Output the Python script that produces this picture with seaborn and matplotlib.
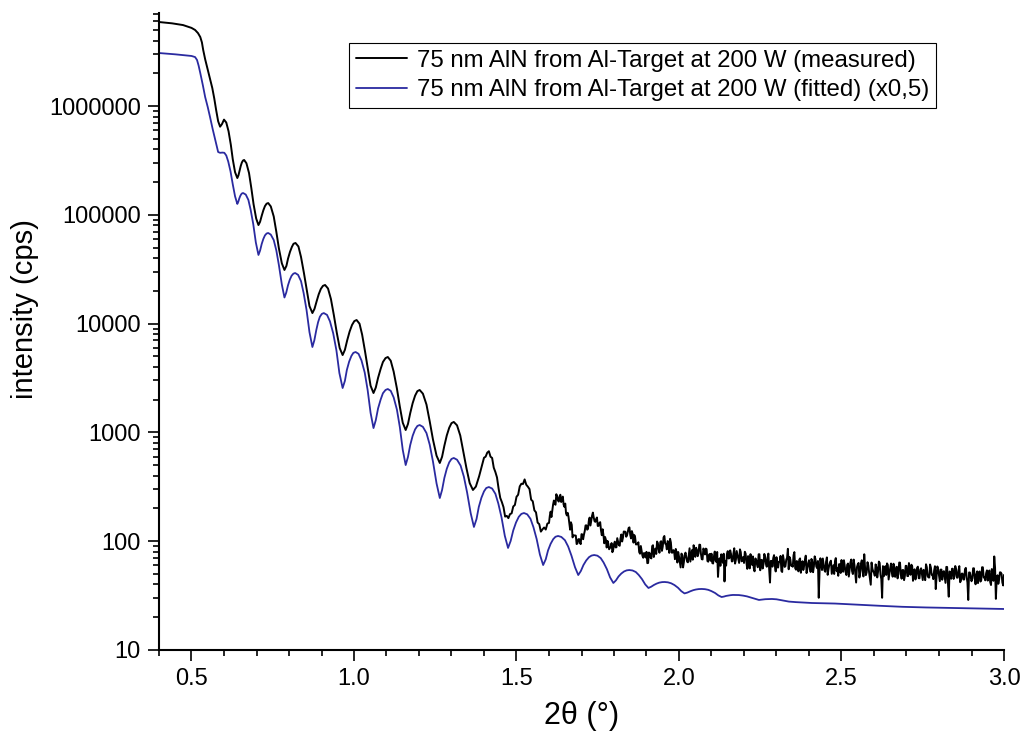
import numpy as np
import pandas as pd
import matplotlib
matplotlib.use("Agg")
import matplotlib.pyplot as plt
import seaborn as sns
from matplotlib.ticker import FixedLocator, LogLocator, FuncFormatter, MultipleLocator, NullFormatter

# ---------------- data (intensities as log10(cps)) ----------------
measured_label = "75 nm AlN from Al-Target at 200 W (measured)"
fitted_label = "75 nm AlN from Al-Target at 200 W (fitted) (x0,5)"

meas_x_smooth = [0.400, 0.440, 0.474, 0.500, 0.511, 0.520, 0.527, 0.532, 0.536, 0.542, 0.548, 0.556, 0.564, 0.570, 0.576, 0.582, 0.588, 0.594, 0.600,
                 0.607, 0.614, 0.621, 0.627, 0.634, 0.641, 0.6445, 0.648, 0.6515, 0.655, 0.6585, 0.662,
                 0.669, 0.677, 0.684, 0.691, 0.699, 0.706, 0.711, 0.716, 0.721, 0.726, 0.731, 0.736,
                 0.744, 0.753, 0.761, 0.769, 0.778, 0.786, 0.792, 0.797, 0.803, 0.809, 0.814, 0.820,
                 0.829, 0.837, 0.846, 0.855, 0.863, 0.872, 0.8785, 0.885, 0.8915, 0.898, 0.9045, 0.911,
                 0.920, 0.929, 0.938, 0.947, 0.956, 0.965, 0.972, 0.979, 0.9865, 0.994, 1.001, 1.008,
                 1.017, 1.025, 1.034, 1.043, 1.051, 1.060, 1.067, 1.074, 1.082, 1.089, 1.097, 1.104,
                 1.113, 1.122, 1.132, 1.141, 1.150, 1.159, 1.166, 1.173, 1.1805, 1.188, 1.195, 1.202,
                 1.212, 1.223, 1.233, 1.243, 1.254, 1.264, 1.271, 1.278, 1.2855, 1.293, 1.300, 1.307,
                 1.317, 1.327, 1.336, 1.346, 1.356, 1.366, 1.375, 1.385, 1.392]
meas_log_smooth = [6.772, 6.760, 6.744, 6.718, 6.699, 6.670, 6.634, 6.585, 6.515, 6.430, 6.358, 6.265, 6.165, 6.070, 5.960, 5.860, 5.810, 5.835, 5.875,
                   5.848, 5.768, 5.644, 5.510, 5.392, 5.338, 5.363, 5.408, 5.449, 5.481, 5.499, 5.504,
                   5.474, 5.384, 5.247, 5.097, 4.966, 4.906, 4.936, 4.991, 5.041, 5.080, 5.102, 5.108,
                   5.077, 4.985, 4.844, 4.690, 4.554, 4.493, 4.530, 4.597, 4.659, 4.706, 4.734, 4.741,
                   4.709, 4.612, 4.464, 4.303, 4.161, 4.097, 4.136, 4.205, 4.270, 4.319, 4.347, 4.355,
                   4.323, 4.226, 4.078, 3.917, 3.775, 3.711, 3.759, 3.846, 3.927, 3.988, 4.023, 4.033,
                   3.999, 3.899, 3.744, 3.577, 3.429, 3.362, 3.412, 3.501, 3.584, 3.647, 3.683, 3.693,
                   3.659, 3.559, 3.404, 3.237, 3.089, 3.022, 3.077, 3.177, 3.269, 3.338, 3.379, 3.390,
                   3.356, 3.256, 3.101, 2.934, 2.786, 2.719, 2.776, 2.877, 2.972, 3.043, 3.085, 3.096,
                   3.065, 2.971, 2.827, 2.671, 2.534, 2.471, 2.502, 2.597, 2.675]

# measured points from 2theta = 1.400 to 3.000, one every 0.005 degree
dense_start, dense_step = 1.400, 0.005
meas_log_dense = [
    2.767, 2.777, 2.814, 2.827, 2.777, 2.765, 2.676, 2.636, 2.586, 2.482,
    2.398, 2.359, 2.313, 2.226, 2.233, 2.212, 2.249, 2.256, 2.319, 2.333,
    2.408, 2.427, 2.504, 2.528, 2.526, 2.568, 2.519, 2.501, 2.479, 2.382,
    2.367, 2.284, 2.265, 2.171, 2.157, 2.088, 2.109, 2.126, 2.107, 2.162,
    2.168, 2.272, 2.280, 2.374, 2.335, 2.412, 2.364, 2.427, 2.391, 2.336,
    2.346, 2.237, 2.226, 2.106, 2.150, 2.053, 2.053, 1.974, 2.017, 1.989,
    2.065, 2.018, 2.093, 2.146, 2.114, 2.217, 2.187, 2.263, 2.185, 2.204,
    2.140, 2.167, 2.099, 2.110, 1.981, 2.014, 2.003, 1.926, 1.949, 1.899,
    1.973, 1.943, 2.028, 1.964, 2.026, 1.997, 2.089, 2.087, 2.053, 2.122,
    2.057, 2.093, 1.987, 2.035, 1.972, 1.990, 1.885, 1.910, 1.848, 1.868,
    1.902, 1.800, 1.888, 1.842, 1.963, 1.899, 1.883, 1.983, 1.894, 2.000,
    1.951, 2.048, 1.976, 2.001, 1.893, 1.989, 1.895, 1.906, 1.929, 1.804,
    1.859, 1.759, 1.874, 1.808, 1.895, 1.812, 1.871, 1.813, 1.918, 1.963,
    1.856, 1.920, 1.887, 1.967, 1.835, 1.933, 1.878, 1.927, 1.812, 1.883,
    1.885, 1.795, 1.905, 1.809, 1.672, 1.843, 1.880, 1.801, 1.630, 1.776,
    1.909, 1.844, 1.883, 1.816, 1.935, 1.829, 1.874, 1.800, 1.900, 1.824,
    1.800, 1.886, 1.746, 1.847, 1.881, 1.782, 1.752, 1.842, 1.787, 1.880,
    1.733, 1.828, 1.789, 1.857, 1.765, 1.886, 1.620, 1.819, 1.845, 1.777,
    1.853, 1.758, 1.809, 1.727, 1.872, 1.764, 1.830, 1.930, 1.855, 1.774,
    1.765, 1.900, 1.738, 1.803, 1.830, 1.710, 1.816, 1.774, 1.867, 1.746,
    1.825, 1.717, 1.810, 1.768, 1.833, 1.752, 1.480, 1.843, 1.735, 1.787,
    1.719, 1.851, 1.743, 1.809, 1.700, 1.779, 1.818, 1.724, 1.682, 1.788,
    1.827, 1.719, 1.771, 1.689, 1.795, 1.741, 1.832, 1.698, 1.777, 1.620,
    1.787, 1.666, 1.798, 1.731, 1.880, 1.688, 1.807, 1.712, 1.600, 1.749,
    1.708, 1.787, 1.667, 1.813, 1.692, 1.480, 1.678, 1.770, 1.796, 1.648,
    1.755, 1.714, 1.793, 1.672, 1.765, 1.697, 1.803, 1.655, 1.735, 1.681,
    1.773, 1.679, 1.731, 1.784, 1.636, 1.742, 1.687, 1.766, 1.659, 1.751,
    1.643, 1.722, 1.788, 1.680, 1.666, 1.758, 1.691, 1.730, 1.560, 1.768,
    1.687, 1.739, 1.646, 1.725, 1.617, 1.763, 1.490, 1.708, 1.747, 1.653,
    1.772, 1.665, 1.731, 1.623, 1.702, 1.648, 1.741, 1.674, 1.460, 1.712,
    1.632, 1.751, 1.657, 1.696, 1.615, 1.722, 1.641, 1.760, 1.667, 1.706,
    1.638, 1.731, 1.597, 1.703, 1.860, 1.470, 1.687, 1.647, 1.713, 1.620,
    1.690]

# interleaved measured points from 2theta = 1.6025 to 2.9975, one every 0.005 degree
inter_start, inter_step = 1.6025, 0.005
meas_log_inter = [
    2.233, 2.222, 2.335, 2.342, 2.432, 2.376, 2.412, 2.360, 2.410, 2.316,
    2.255, 2.261, 2.166, 2.174, 2.035, 2.053, 2.051, 1.979, 2.020, 1.973,
    2.062, 2.060, 2.145, 2.106, 2.187, 2.144, 2.234, 2.220, 2.178, 2.218,
    2.141, 2.175, 2.055, 2.058, 2.039, 1.942, 1.978, 1.938, 1.983, 1.920,
    1.996, 1.944, 1.996, 1.958, 2.062, 2.031, 2.088, 2.041, 2.087, 2.127,
    2.025, 2.066, 2.057, 1.970, 1.972, 1.900, 1.956, 1.866, 1.892, 1.850,
    1.798, 1.896, 1.848, 1.955, 1.855, 1.932, 1.997, 1.921, 1.993, 1.911,
    2.035, 1.977, 1.925, 1.993, 2.022, 1.895, 1.918, 1.835, 1.896, 1.901,
    1.809, 1.886, 1.759, 1.869, 1.854, 1.806, 1.935, 1.865, 1.830, 1.921,
    1.940, 1.862, 1.968, 1.884, 1.832, 1.917, 1.932, 1.817, 1.877, 1.820,
    1.799, 1.861, 1.821, 1.901, 1.795, 1.774, 1.846, 1.885, 1.820, 1.883,
    1.841, 1.916, 1.814, 1.887, 1.794, 1.910, 1.837, 1.925, 1.815, 1.855,
    1.903, 1.803, 1.863, 1.750, 1.824, 1.860, 1.723, 1.828, 1.760, 1.880,
    1.828, 1.749, 1.883, 1.792, 1.846, 1.739, 1.819, 1.766, 1.872, 1.722,
    1.760, 1.812, 1.865, 1.717, 1.824, 1.769, 1.848, 1.742, 1.834, 1.780,
    1.872, 1.752, 1.818, 1.723, 1.842, 1.776, 1.735, 1.827, 1.707, 1.799,
    1.758, 1.837, 1.715, 1.861, 1.767, 1.818, 1.724, 1.803, 1.841, 1.733,
    1.812, 1.691, 1.783, 1.821, 1.740, 1.699, 1.845, 1.750, 1.789, 1.708,
    1.747, 1.825, 1.717, 1.783, 1.675, 1.806, 1.725, 1.831, 1.696, 1.761,
    1.800, 1.706, 1.825, 1.676, 1.755, 1.714, 1.780, 1.658, 1.804, 1.723,
    1.682, 1.761, 1.721, 1.800, 1.652, 1.771, 1.744, 1.690, 1.782, 1.701,
    1.795, 1.674, 1.766, 1.712, 1.658, 1.804, 1.696, 1.735, 1.642, 1.774,
    1.680, 1.799, 1.691, 1.770, 1.729, 1.648, 1.754, 1.660, 1.739, 1.698,
    1.737, 1.642, 1.761, 1.667, 1.786, 1.692, 1.651, 1.770, 1.675, 1.741,
    1.633, 1.739, 1.711, 1.671, 1.764, 1.616, 1.722, 1.655, 1.747, 1.680,
    1.745, 1.665, 1.771, 1.637, 1.702, 1.648, 1.755, 1.620, 1.713, 1.672,
    1.658, 1.751, 1.604, 1.723, 1.709, 1.629, 1.761, 1.667, 1.640, 1.732,
    1.691, 1.625, 1.744, 1.636, 1.756, 1.649, 1.608, 1.714, 1.700, 1.593]

fit_x = [0.400, 0.450, 0.500, 0.511, 0.517, 0.522, 0.527, 0.535, 0.542, 0.550, 0.557, 0.565, 0.573, 0.578, 0.582, 0.588, 0.595, 0.601, 0.607, 0.613, 0.620, 0.627, 0.634, 0.641,
         0.644, 0.647, 0.650, 0.653, 0.656, 0.659,
         0.667, 0.675, 0.682, 0.690, 0.698, 0.706, 0.711, 0.716, 0.721, 0.726, 0.731, 0.736,
         0.744, 0.753, 0.761, 0.769, 0.778, 0.786, 0.7915, 0.797, 0.8025, 0.808, 0.8135, 0.819,
         0.828, 0.837, 0.845, 0.854, 0.863, 0.872, 0.878, 0.884, 0.8895, 0.895, 0.901, 0.907,
         0.917, 0.926, 0.936, 0.946, 0.955, 0.965, 0.972, 0.978, 0.985, 0.992, 0.998, 1.005,
         1.014, 1.023, 1.033, 1.042, 1.051, 1.060, 1.067, 1.074, 1.082, 1.089, 1.097, 1.104,
         1.113, 1.122, 1.132, 1.141, 1.150, 1.159, 1.166, 1.173, 1.1805, 1.188, 1.195, 1.202,
         1.212, 1.223, 1.233, 1.243, 1.254, 1.264, 1.271, 1.278, 1.2855, 1.293, 1.300, 1.307,
         1.317, 1.328, 1.338, 1.348, 1.359, 1.369, 1.377, 1.384, 1.392, 1.400, 1.407, 1.415,
         1.425, 1.435, 1.444, 1.454, 1.464, 1.474, 1.482, 1.490, 1.4985, 1.507, 1.515, 1.523,
         1.533, 1.543, 1.552, 1.562, 1.572, 1.582, 1.590, 1.597, 1.605, 1.613, 1.620, 1.628,
         1.638, 1.649, 1.659, 1.669, 1.680, 1.690, 1.698, 1.706, 1.7145, 1.723, 1.731, 1.739,
         1.749, 1.759, 1.768, 1.778, 1.788, 1.798, 1.806, 1.814, 1.8225, 1.831, 1.839, 1.847,
         1.857, 1.867, 1.876, 1.886, 1.896, 1.906, 1.914, 1.923, 1.931, 1.939, 1.948, 1.956,
         1.966, 1.976, 1.986, 1.997, 2.007, 2.017, 2.026, 2.035, 2.044, 2.052, 2.061, 2.070,
         2.080, 2.090, 2.100, 2.111, 2.121, 2.131, 2.138, 2.145, 2.152, 2.159, 2.166, 2.172,
         2.184, 2.197, 2.209, 2.221, 2.234, 2.246, 2.253, 2.260, 2.266, 2.273, 2.280, 2.286,
         2.300, 2.320, 2.338, 2.360, 2.380, 2.409, 2.440, 2.480, 2.520, 2.564, 2.620, 2.687, 2.760, 2.841, 2.920, 3.000]
fit_log = [6.487, 6.475, 6.460, 6.450, 6.423, 6.370, 6.303, 6.190, 6.083, 5.990, 5.899, 5.790, 5.688, 5.620, 5.577, 5.570, 5.572, 5.570, 5.545, 5.490, 5.400, 5.280, 5.170, 5.100,
           5.120, 5.150, 5.173, 5.189, 5.198, 5.200,
           5.186, 5.137, 5.046, 4.915, 4.745, 4.631, 4.671, 4.732, 4.778, 4.811, 4.828, 4.833,
           4.818, 4.768, 4.673, 4.536, 4.359, 4.240, 4.285, 4.353, 4.404, 4.440, 4.459, 4.465,
           4.448, 4.390, 4.281, 4.125, 3.921, 3.785, 3.847, 3.941, 4.013, 4.063, 4.089, 4.097,
           4.080, 4.021, 3.911, 3.752, 3.546, 3.408, 3.474, 3.574, 3.650, 3.703, 3.731, 3.739,
           3.722, 3.662, 3.550, 3.389, 3.180, 3.040, 3.112, 3.220, 3.302, 3.360, 3.390, 3.399,
           3.382, 3.322, 3.210, 3.049, 2.840, 2.700, 2.774, 2.884, 2.969, 3.028, 3.059, 3.068,
           3.051, 2.994, 2.887, 2.732, 2.531, 2.397, 2.471, 2.581, 2.666, 2.725, 2.756, 2.765,
           2.749, 2.695, 2.594, 2.448, 2.258, 2.131, 2.204, 2.315, 2.399, 2.458, 2.489, 2.498,
           2.484, 2.436, 2.347, 2.218, 2.050, 1.938, 2.002, 2.099, 2.172, 2.224, 2.251, 2.259,
           2.247, 2.206, 2.130, 2.020, 1.877, 1.781, 1.834, 1.915, 1.976, 2.019, 2.041, 2.048,
           2.039, 2.009, 1.951, 1.868, 1.761, 1.689, 1.726, 1.781, 1.823, 1.853, 1.868, 1.873,
           1.867, 1.845, 1.804, 1.744, 1.667, 1.616, 1.640, 1.676, 1.703, 1.722, 1.732, 1.735,
           1.731, 1.717, 1.690, 1.652, 1.603, 1.570, 1.581, 1.598, 1.610, 1.619, 1.624, 1.625,
           1.622, 1.613, 1.597, 1.572, 1.541, 1.520, 1.528, 1.540, 1.550, 1.556, 1.560, 1.561,
           1.559, 1.553, 1.541, 1.524, 1.502, 1.487, 1.491, 1.497, 1.501, 1.504, 1.506, 1.506,
           1.505, 1.500, 1.493, 1.482, 1.470, 1.460, 1.462, 1.465, 1.467, 1.468, 1.469, 1.469,
           1.466, 1.455, 1.445, 1.440, 1.437, 1.432, 1.430, 1.427, 1.421, 1.414, 1.406, 1.397, 1.391, 1.386, 1.381, 1.377]

x_ticks = [0.5, 1.0, 1.5, 2.0, 2.5, 3.0]
y_ticks = [10, 100, 1000, 10000, 100000, 1000000]

# ---------------- build frames ----------------
meas_x = np.concatenate([np.array(meas_x_smooth),
                         dense_start + dense_step * np.arange(len(meas_log_dense)),
                         inter_start + inter_step * np.arange(len(meas_log_inter))])
meas_log = np.concatenate([np.array(meas_log_smooth), np.array(meas_log_dense),
                           np.array(meas_log_inter)])
df_meas = (pd.DataFrame({"two_theta": meas_x, "cps": 10 ** meas_log})
           .sort_values("two_theta").reset_index(drop=True))
df_fit = pd.DataFrame({"two_theta": np.array(fit_x), "cps": 10 ** np.array(fit_log)})

# ---------------- style ----------------
sns.set_theme(style="ticks")
plt.rcParams['font.family'] = ['Liberation Sans', 'DejaVu Sans']
plt.rcParams['axes.linewidth'] = 1.5

fig = plt.figure(figsize=(10.24, 7.45), dpi=100)
fig.patch.set_facecolor("white")
ax = fig.add_axes([159 / 1024, 1 - 650 / 745, (1004 - 159) / 1024, (650 - 13) / 745])

sns.lineplot(data=df_meas, x="two_theta", y="cps", color="black", linewidth=1.4,
             estimator=None, sort=False, ax=ax, label=measured_label)
sns.lineplot(data=df_fit, x="two_theta", y="cps", color="#2a2aa0", linewidth=1.3,
             estimator=None, sort=False, ax=ax, label=fitted_label)

ax.set_yscale("log")
ax.set_xlim(0.4, 3.0)
ax.set_ylim(10, 7.16e6)

ax.xaxis.set_major_locator(FixedLocator(x_ticks))
ax.xaxis.set_minor_locator(MultipleLocator(0.1))
ax.xaxis.set_major_formatter(FuncFormatter(lambda v, p: f"{v:.1f}"))
ax.yaxis.set_major_locator(FixedLocator(y_ticks))
ax.yaxis.set_minor_locator(LogLocator(base=10, subs=np.arange(2, 10)))
ax.yaxis.set_major_formatter(FuncFormatter(lambda v, p: f"{int(round(v))}"))
ax.yaxis.set_minor_formatter(NullFormatter())

for s in ["top", "right"]:
    ax.spines[s].set_visible(False)
for s in ["left", "bottom"]:
    ax.spines[s].set_color("black")
    ax.spines[s].set_linewidth(1.5)

ax.tick_params(which="major", direction="out", length=8, width=1.2, colors="black",
               labelsize=17, pad=5)
ax.tick_params(which="minor", direction="out", length=4.3, width=1.2, colors="black")

ax.set_xlabel("2θ (°)", fontsize=22, color="black")
ax.set_ylabel("intensity (cps)", fontsize=21, color="black")
ax.xaxis.set_label_coords(0.5, -0.104)
ax.xaxis.label.set_va("center")
ax.yaxis.set_label_coords(-0.159, 0.535)
ax.yaxis.label.set_va("center")

leg = ax.legend(loc="upper left", bbox_to_anchor=(349 / 1024, 1 - 43 / 745),
                bbox_transform=fig.transFigure, frameon=True, fancybox=False,
                edgecolor="black", framealpha=1, fontsize=17.3, handlelength=2.15,
                handletextpad=0.42, borderpad=0.28, labelspacing=0.3, borderaxespad=0)
leg.get_frame().set_linewidth(0.8)
for t in leg.get_texts():
    t.set_color("black")

fig.savefig("out.png", dpi=100, facecolor="white")
